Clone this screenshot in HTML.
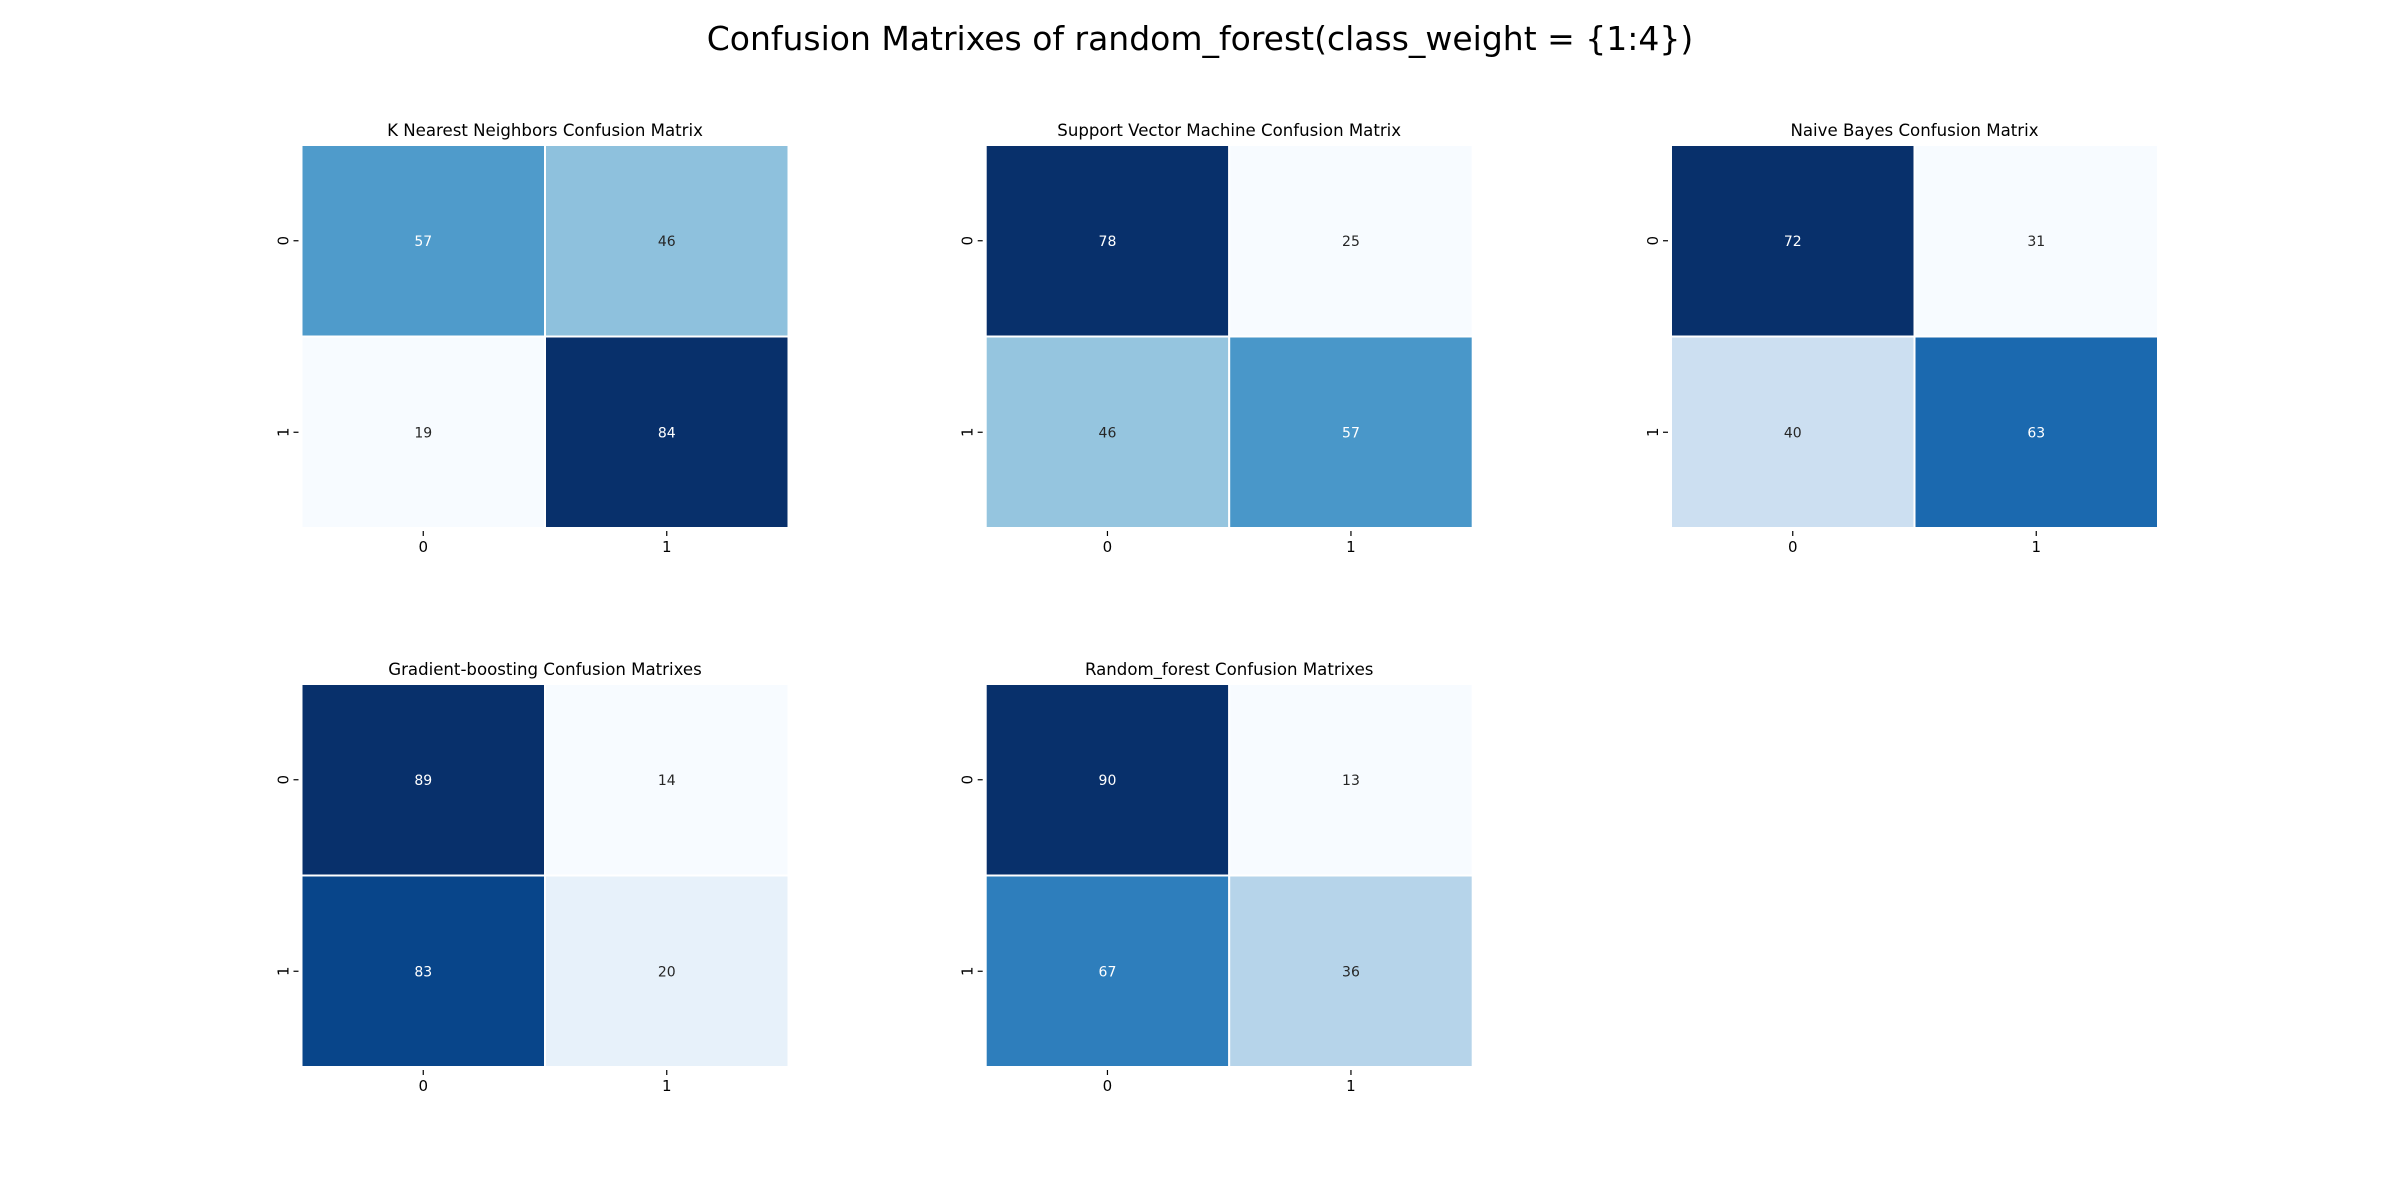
<!DOCTYPE html>
<html><head><meta charset="utf-8"><style>
body{margin:0;background:#fff;}
svg{display:block;font-family:"DejaVu Sans","Liberation Sans",sans-serif;}
</style></head><body>
<svg id="fig" width="2400" height="1200" viewBox="0 0 2400 1200" xmlns="http://www.w3.org/2000/svg">
<rect width="2400" height="1200" fill="#fff"/>
<text x="1200" y="50" font-size="33" text-anchor="middle" fill="#000">Confusion Matrixes of random_forest(class_weight = {1:4})</text>
<g id="plots"></g>
</svg>
<script>
const titles = ["K Nearest Neighbors Confusion Matrix","Support Vector Machine Confusion Matrix","Naive Bayes Confusion Matrix","Gradient-boosting Confusion Matrixes","Random_forest Confusion Matrixes"];
const knnValues = [[57,46],[19,84]];
const svmValues = [[78,25],[46,57]];
const nbValues = [[72,31],[40,63]];
const gbValues = [[89,14],[83,20]];
const rfValues = [[90,13],[67,36]];
const tickLabels = ["0","1"];
const matrices = [knnValues, svmValues, nbValues, gbValues, rfValues];

const stops = ["#f7fbff","#deebf7","#c6dbef","#9ecae1","#6baed6","#4292c6","#2171b5","#08519c","#08306b"].map(h=>[parseInt(h.slice(1,3),16),parseInt(h.slice(3,5),16),parseInt(h.slice(5,7),16)]);
function blues(t){t=Math.max(0,Math.min(1,t));const p=t*8;const i=Math.min(7,Math.floor(p));const f=p-i;
  return stops[i].map((c,k)=>Math.round(c+(stops[i+1][k]-c)*f));}
function lum(c){const l=c.map(v=>{v/=255;return v<=0.03928?v/12.92:Math.pow((v+0.055)/1.055,2.4);});return 0.2126*l[0]+0.7152*l[1]+0.0722*l[2];}

const colX=[301.5,985.7,1671];
const rowY=[145,684];
const W=487, H=383;
const NS="http://www.w3.org/2000/svg";
const g=document.getElementById('plots');
function el(tag,attrs,parent){const e=document.createElementNS(NS,tag);for(const k in attrs)e.setAttribute(k,attrs[k]);parent.appendChild(e);return e;}

matrices.forEach((m,idx)=>{
  const x0=colX[idx%3], y0=rowY[Math.floor(idx/3)];
  const ax=el('g',{},g);
  
  
  const flat=m.flat(); const vmin=Math.min(...flat), vmax=Math.max(...flat);
  const cw=W/m[0].length, ch=H/m.length;
  const xs=c=>x0+c*cw, ys=r=>y0+r*ch;
  const t=el('text',{x:x0+W/2,y:y0-9,'font-size':16.6,'text-anchor':'middle',fill:'#000'},ax);
  t.textContent=titles[idx];
  
  
  m.forEach((row,r)=>row.forEach((v,c)=>{
    const col=blues((v-vmin)/(vmax-vmin));
    const rect=el('rect',{x:xs(c),y:ys(r),width:cw,height:ch,fill:`rgb(${col.join(',')})`,stroke:'#fff','stroke-width':2},ax);
    
    
    const tx=el('text',{x:xs(c)+cw/2,y:ys(r)+ch/2+5,'font-size':14,'text-anchor':'middle',fill:lum(col)>0.408?'#262626':'#ffffff'},ax);
    tx.textContent=v;
    
    
  }));
  tickLabels.forEach((lab,i)=>{
    const cx=xs(i)+cw/2;
    el('line',{x1:cx,y1:y0+H+3,x2:cx,y2:y0+H+8,stroke:'#000','stroke-width':1.2},ax);
    const xl=el('text',{x:cx,y:y0+H+24,'font-size':15,'text-anchor':'middle',fill:'#000'},ax);
    xl.textContent=lab;
    
    
    const cy=ys(i)+ch/2;
    el('line',{x1:x0-8,y1:cy,x2:x0-3,y2:cy,stroke:'#000','stroke-width':1.2},ax);
    const yl=el('text',{x:0,y:0,'font-size':15,'text-anchor':'middle',fill:'#000',transform:`translate(${x0-13},${cy}) rotate(-90)`},ax);
    yl.textContent=lab;
    
    
  });
});
</script>
</body></html>
